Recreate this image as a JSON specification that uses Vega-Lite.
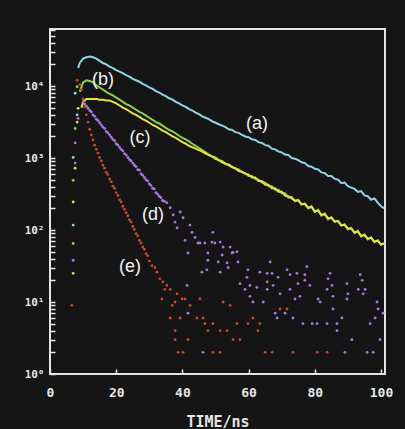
{
  "$schema": "https://vega.github.io/schema/vega-lite/v6.json",
  "width": 335,
  "height": 345,
  "autosize": {"type": "none"},
  "padding": {"left": 50, "top": 29, "right": 20, "bottom": 55},
  "background": "#151515",
  "config": {
    "view": {"stroke": "#e4e4e4", "strokeWidth": 2},
    "axis": {"grid": false, "domain": false, "tickColor": "#e8e8e8", "tickWidth": 1.5, "labelColor": "#e6e6e6", "labelFont": "DejaVu Sans Mono", "labelFontWeight": "bold", "titleColor": "#e6e6e6", "titleFont": "DejaVu Sans Mono", "titleFontWeight": "bold"}
  },
  "datasets": {
    "curves": [
      {"s":"a","t":8.5,"v":17780},{"s":"a","t":9,"v":20890},{"s":"a","t":10,"v":23990},{"s":"a","t":11,"v":25120},{"s":"a","t":12,"v":25700},{"s":"a","t":13,"v":25120},{"s":"a","t":14,"v":23990},{"s":"a","t":15,"v":22390},{"s":"a","t":16,"v":20890},{"s":"a","t":17,"v":19950},{"s":"a","t":18,"v":18620},{"s":"a","t":19,"v":17780},{"s":"a","t":20,"v":16600},{"s":"a","t":21,"v":15850},{"s":"a","t":22,"v":15140},{"s":"a","t":23,"v":14130},{"s":"a","t":24,"v":13490},{"s":"a","t":25,"v":12590},{"s":"a","t":26,"v":12020},{"s":"a","t":27,"v":11480},{"s":"a","t":28,"v":10720},{"s":"a","t":29,"v":10230},{"s":"a","t":30,"v":9550},{"s":"a","t":31,"v":9120},{"s":"a","t":32,"v":8510},{"s":"a","t":33,"v":8130},{"s":"a","t":34,"v":7590},{"s":"a","t":35,"v":7240},{"s":"a","t":36,"v":6760},{"s":"a","t":37,"v":6460},{"s":"a","t":38,"v":6030},{"s":"a","t":39,"v":5750},{"s":"a","t":40,"v":5370},{"s":"a","t":41,"v":5130},{"s":"a","t":42,"v":4790},{"s":"a","t":43,"v":4570},{"s":"a","t":44,"v":4270},{"s":"a","t":45,"v":4070},{"s":"a","t":46,"v":3800},{"s":"a","t":47,"v":3630},{"s":"a","t":48,"v":3470},{"s":"a","t":49,"v":3240},{"s":"a","t":50,"v":3090},{"s":"a","t":51,"v":2950},{"s":"a","t":52,"v":2820},{"s":"a","t":53,"v":2690},{"s":"a","t":54,"v":2510},{"s":"a","t":55,"v":2450},{"s":"a","t":56,"v":2290},{"s":"a","t":57,"v":2240},{"s":"a","t":58,"v":2090},{"s":"a","t":59,"v":1995},{"s":"a","t":60,"v":1950},{"s":"a","t":61,"v":1820},{"s":"a","t":62,"v":1780},{"s":"a","t":63,"v":1660},{"s":"a","t":64,"v":1620},{"s":"a","t":65,"v":1510},{"s":"a","t":66,"v":1480},{"s":"a","t":67,"v":1350},{"s":"a","t":68,"v":1320},{"s":"a","t":69,"v":1230},{"s":"a","t":70,"v":1200},{"s":"a","t":71,"v":1120},{"s":"a","t":72,"v":1100},{"s":"a","t":73,"v":1000},{"s":"a","t":74,"v":977},{"s":"a","t":75,"v":933},{"s":"a","t":76,"v":871},{"s":"a","t":77,"v":851},{"s":"a","t":78,"v":776},{"s":"a","t":79,"v":759},{"s":"a","t":80,"v":708},{"s":"a","t":81,"v":692},{"s":"a","t":82,"v":631},{"s":"a","t":83,"v":617},{"s":"a","t":84,"v":562},{"s":"a","t":85,"v":562},{"s":"a","t":86,"v":513},{"s":"a","t":87,"v":501},{"s":"a","t":88,"v":447},{"s":"a","t":89,"v":457},{"s":"a","t":90,"v":407},{"s":"a","t":91,"v":389},{"s":"a","t":92,"v":372},{"s":"a","t":93,"v":339},{"s":"a","t":94,"v":347},{"s":"a","t":95,"v":302},{"s":"a","t":96,"v":295},{"s":"a","t":97,"v":263},{"s":"a","t":98,"v":275},{"s":"a","t":99,"v":240},{"s":"a","t":100,"v":214},{"s":"a","t":101,"v":200},
      {"s":"b","t":9,"v":8320},{"s":"b","t":10,"v":11220},{"s":"b","t":11,"v":12020},{"s":"b","t":12,"v":11750},{"s":"b","t":13,"v":11220},{"s":"b","t":14,"v":10230},{"s":"b","t":15,"v":9550},{"s":"b","t":16,"v":8910},{"s":"b","t":17,"v":8320},{"s":"b","t":18,"v":7760},{"s":"b","t":19,"v":7410},{"s":"b","t":20,"v":6920},{"s":"b","t":21,"v":6460},{"s":"b","t":22,"v":6030},{"s":"b","t":23,"v":5620},{"s":"b","t":24,"v":5370},{"s":"b","t":25,"v":5010},{"s":"b","t":26,"v":4680},{"s":"b","t":27,"v":4370},{"s":"b","t":28,"v":4170},{"s":"b","t":29,"v":3890},{"s":"b","t":30,"v":3630},{"s":"b","t":31,"v":3390},{"s":"b","t":32,"v":3160},{"s":"b","t":33,"v":3020},{"s":"b","t":34,"v":2820},{"s":"b","t":35,"v":2630},{"s":"b","t":36,"v":2450},{"s":"b","t":37,"v":2340},{"s":"b","t":38,"v":2190},{"s":"b","t":39,"v":2040},{"s":"b","t":40,"v":1910},{"s":"b","t":41,"v":1820},{"s":"b","t":42,"v":1700},{"s":"b","t":43,"v":1580},{"s":"b","t":44,"v":1480},{"s":"b","t":45,"v":1380},{"s":"b","t":46,"v":1290},{"s":"b","t":47,"v":1200},{"s":"b","t":48,"v":1120},{"s":"b","t":49,"v":1050},{"s":"b","t":50,"v":1020},{"s":"b","t":51,"v":933},{"s":"b","t":52,"v":912},{"s":"b","t":53,"v":832},{"s":"b","t":54,"v":813},{"s":"b","t":55,"v":759},{"s":"b","t":56,"v":708},{"s":"b","t":57,"v":692},{"s":"b","t":58,"v":631},{"s":"b","t":59,"v":617},{"s":"b","t":60,"v":562},{"s":"b","t":61,"v":562},{"s":"b","t":62,"v":513},{"s":"b","t":63,"v":501},{"s":"b","t":64,"v":457},{"s":"b","t":65,"v":457},{"s":"b","t":66,"v":407},{"s":"b","t":67,"v":407},{"s":"b","t":68,"v":363},{"s":"b","t":69,"v":363},{"s":"b","t":70,"v":324},{"s":"b","t":71,"v":324},{"s":"b","t":72,"v":282},{"s":"b","t":73,"v":288},{"s":"b","t":74,"v":251},{"s":"b","t":75,"v":263},{"s":"b","t":76,"v":224},{"s":"b","t":77,"v":234},{"s":"b","t":78,"v":200},{"s":"b","t":79,"v":214},{"s":"b","t":80,"v":178},{"s":"b","t":81,"v":191},{"s":"b","t":82,"v":158},{"s":"b","t":83,"v":170},{"s":"b","t":84,"v":141},{"s":"b","t":85,"v":151},{"s":"b","t":86,"v":129},{"s":"b","t":87,"v":135},{"s":"b","t":88,"v":115},{"s":"b","t":89,"v":120},{"s":"b","t":90,"v":102},{"s":"b","t":91,"v":107},{"s":"b","t":92,"v":91},{"s":"b","t":93,"v":98},{"s":"b","t":94,"v":81},{"s":"b","t":95,"v":87},{"s":"b","t":96,"v":74},{"s":"b","t":97,"v":79},{"s":"b","t":98,"v":68},{"s":"b","t":99,"v":72},{"s":"b","t":100,"v":62},{"s":"b","t":101,"v":66},
      {"s":"c","t":9.5,"v":5010},{"s":"c","t":10,"v":6030},{"s":"c","t":11,"v":6610},{"s":"c","t":12,"v":6610},{"s":"c","t":13,"v":6610},{"s":"c","t":14,"v":6610},{"s":"c","t":15,"v":6460},{"s":"c","t":16,"v":6460},{"s":"c","t":17,"v":6310},{"s":"c","t":18,"v":6310},{"s":"c","t":19,"v":6030},{"s":"c","t":20,"v":5750},{"s":"c","t":21,"v":5370},{"s":"c","t":22,"v":5010},{"s":"c","t":23,"v":4790},{"s":"c","t":24,"v":4470},{"s":"c","t":25,"v":4170},{"s":"c","t":26,"v":3980},{"s":"c","t":27,"v":3720},{"s":"c","t":28,"v":3470},{"s":"c","t":29,"v":3310},{"s":"c","t":30,"v":3090},{"s":"c","t":31,"v":2880},{"s":"c","t":32,"v":2750},{"s":"c","t":33,"v":2570},{"s":"c","t":34,"v":2400},{"s":"c","t":35,"v":2290},{"s":"c","t":36,"v":2140},{"s":"c","t":37,"v":1995},{"s":"c","t":38,"v":1910},{"s":"c","t":39,"v":1780},{"s":"c","t":40,"v":1660},{"s":"c","t":41,"v":1580},{"s":"c","t":42,"v":1480},{"s":"c","t":43,"v":1410},{"s":"c","t":44,"v":1350},{"s":"c","t":45,"v":1290},{"s":"c","t":46,"v":1230},{"s":"c","t":47,"v":1150},{"s":"c","t":48,"v":1100},{"s":"c","t":49,"v":1050},{"s":"c","t":50,"v":977},{"s":"c","t":51,"v":933},{"s":"c","t":52,"v":871},{"s":"c","t":53,"v":832},{"s":"c","t":54,"v":794},{"s":"c","t":55,"v":741},{"s":"c","t":56,"v":724},{"s":"c","t":57,"v":661},{"s":"c","t":58,"v":646},{"s":"c","t":59,"v":603},{"s":"c","t":60,"v":589},{"s":"c","t":61,"v":537},{"s":"c","t":62,"v":537},{"s":"c","t":63,"v":479},{"s":"c","t":64,"v":479},{"s":"c","t":65,"v":427},{"s":"c","t":66,"v":427},{"s":"c","t":67,"v":380},{"s":"c","t":68,"v":380},{"s":"c","t":69,"v":339},{"s":"c","t":70,"v":339},{"s":"c","t":71,"v":302},{"s":"c","t":72,"v":295},{"s":"c","t":73,"v":275},{"s":"c","t":74,"v":257},{"s":"c","t":75,"v":257},{"s":"c","t":76,"v":229},{"s":"c","t":77,"v":229},{"s":"c","t":78,"v":204},{"s":"c","t":79,"v":209},{"s":"c","t":80,"v":182},{"s":"c","t":81,"v":186},{"s":"c","t":82,"v":162},{"s":"c","t":83,"v":166},{"s":"c","t":84,"v":145},{"s":"c","t":85,"v":148},{"s":"c","t":86,"v":132},{"s":"c","t":87,"v":132},{"s":"c","t":88,"v":117},{"s":"c","t":89,"v":117},{"s":"c","t":90,"v":105},{"s":"c","t":91,"v":105},{"s":"c","t":92,"v":93},{"s":"c","t":93,"v":95},{"s":"c","t":94,"v":83},{"s":"c","t":95,"v":85},{"s":"c","t":96,"v":76},{"s":"c","t":97,"v":78},{"s":"c","t":98,"v":69},{"s":"c","t":99,"v":71},{"s":"c","t":100,"v":63},{"s":"c","t":101,"v":65}
    ],
    "dots": [
      {"s":"a","t":7.6,"v":7940},{"s":"a","t":8.2,"v":3980},{"s":"a","t":7.0,"v":1020},{"s":"a","t":7.0,"v":117},
      {"s":"b","t":8.2,"v":9770},{"s":"b","t":7.6,"v":2570},{"s":"b","t":7.0,"v":490},{"s":"b","t":7.0,"v":65},
      {"s":"c","t":8.5,"v":4900},{"s":"c","t":8.2,"v":3160},{"s":"c","t":7.6,"v":724},{"s":"c","t":7.0,"v":245},{"s":"c","t":7.0,"v":25},
      {"s":"d","t":8.5,"v":3550},{"s":"d","t":7.6,"v":1620},{"s":"d","t":7.6,"v":851},{"s":"d","t":7.0,"v":38},
      {"s":"e","t":8.2,"v":12020},{"s":"e","t":6.6,"v":9},
      {"s":"d","t":10,"v":6030},{"s":"d","t":10.5,"v":5620},{"s":"d","t":11,"v":5250},{"s":"d","t":11.5,"v":4900},{"s":"d","t":12,"v":4570},{"s":"d","t":12.5,"v":4370},{"s":"d","t":13,"v":3980},{"s":"d","t":13.5,"v":3800},{"s":"d","t":14,"v":3470},{"s":"d","t":14.5,"v":3310},{"s":"d","t":15,"v":3090},{"s":"d","t":15.5,"v":2880},{"s":"d","t":16,"v":2690},{"s":"d","t":16.5,"v":2570},{"s":"d","t":17,"v":2340},{"s":"d","t":17.5,"v":2240},{"s":"d","t":18,"v":2090},{"s":"d","t":18.5,"v":1950},{"s":"d","t":19,"v":1820},{"s":"d","t":19.5,"v":1740},{"s":"d","t":20,"v":1580},{"s":"d","t":20.5,"v":1510},{"s":"d","t":21,"v":1410},{"s":"d","t":21.5,"v":1320},{"s":"d","t":22,"v":1260},{"s":"d","t":22.5,"v":1150},{"s":"d","t":23,"v":1100},{"s":"d","t":23.5,"v":1020},{"s":"d","t":24,"v":955},{"s":"d","t":24.5,"v":912},{"s":"d","t":25,"v":851},{"s":"d","t":25.5,"v":794},{"s":"d","t":26,"v":759},{"s":"d","t":26.5,"v":692},{"s":"d","t":27,"v":676},{"s":"d","t":27.5,"v":603},{"s":"d","t":28,"v":575},{"s":"d","t":28.5,"v":537},{"s":"d","t":29,"v":501},{"s":"d","t":29.5,"v":479},{"s":"d","t":30,"v":437},{"s":"d","t":30.5,"v":417},{"s":"d","t":31,"v":380},{"s":"d","t":31.5,"v":372},{"s":"d","t":32,"v":331},{"s":"d","t":32.5,"v":316},{"s":"d","t":33,"v":295},{"s":"d","t":33.5,"v":282},{"s":"d","t":34,"v":257},{"s":"d","t":34.5,"v":251},
      {"s":"d","t":35.3,"v":240},{"s":"d","t":36.3,"v":204},{"s":"d","t":37.2,"v":162},{"s":"d","t":37.8,"v":129},{"s":"d","t":38.4,"v":107},{"s":"d","t":39.3,"v":178},{"s":"d","t":40.2,"v":148},{"s":"d","t":40.8,"v":72},{"s":"d","t":42.3,"v":117},{"s":"d","t":42.9,"v":93},{"s":"d","t":43.8,"v":79},{"s":"d","t":44.7,"v":66},{"s":"d","t":49.2,"v":93},{"s":"d","t":48.9,"v":68},{"s":"d","t":49.8,"v":66},{"s":"d","t":41.7,"v":48},{"s":"d","t":47.7,"v":48},{"s":"d","t":47.7,"v":38},{"s":"d","t":50.8,"v":36},{"s":"d","t":52.3,"v":58},{"s":"d","t":54.4,"v":58},{"s":"d","t":55,"v":48},{"s":"d","t":56.5,"v":50},{"s":"d","t":56.8,"v":36},{"s":"d","t":52,"v":45},{"s":"d","t":53.5,"v":35},{"s":"d","t":53.8,"v":30},{"s":"d","t":45.9,"v":26},{"s":"d","t":47.4,"v":28},{"s":"d","t":51.4,"v":26},{"s":"d","t":59.8,"v":28},{"s":"d","t":59.5,"v":22},{"s":"d","t":63.4,"v":26},{"s":"d","t":65.6,"v":25},{"s":"d","t":57.4,"v":18},{"s":"d","t":60.4,"v":17},{"s":"d","t":58.9,"v":15},{"s":"d","t":62.5,"v":16},{"s":"d","t":65.6,"v":15},{"s":"d","t":41.4,"v":17},{"s":"d","t":60.4,"v":12},{"s":"d","t":61.3,"v":10},{"s":"d","t":64.4,"v":10},{"s":"d","t":41.7,"v":7},{"s":"d","t":46.2,"v":2},{"s":"d","t":46.8,"v":66},{"s":"d","t":51.4,"v":68},{"s":"d","t":55.3,"v":49},{"s":"d","t":45.3,"v":66},
      {"s":"d","t":66.5,"v":36},{"s":"d","t":71.6,"v":28},{"s":"d","t":77.6,"v":31},{"s":"d","t":67.1,"v":25},{"s":"d","t":68.9,"v":22},{"s":"d","t":72.5,"v":24},{"s":"d","t":74.6,"v":25},{"s":"d","t":77,"v":24},{"s":"d","t":77,"v":20},{"s":"d","t":65.6,"v":19},{"s":"d","t":67.4,"v":17},{"s":"d","t":74.9,"v":18},{"s":"d","t":78.5,"v":17},{"s":"d","t":84.6,"v":25},{"s":"d","t":84,"v":21},{"s":"d","t":85.2,"v":17},{"s":"d","t":83.7,"v":15},{"s":"d","t":89.7,"v":18},{"s":"d","t":93.7,"v":24},{"s":"d","t":94.3,"v":20},{"s":"d","t":93.1,"v":15},{"s":"d","t":95.2,"v":15},{"s":"d","t":72.5,"v":15},{"s":"d","t":69.5,"v":13},{"s":"d","t":74,"v":11},{"s":"d","t":75.5,"v":12},{"s":"d","t":81,"v":11},{"s":"d","t":81.6,"v":10},{"s":"d","t":85.5,"v":12},{"s":"d","t":90,"v":13},{"s":"d","t":94.6,"v":13},{"s":"d","t":89.7,"v":11},{"s":"d","t":85.5,"v":8},{"s":"d","t":98.8,"v":10},{"s":"d","t":99.1,"v":8},{"s":"d","t":100.6,"v":7},{"s":"d","t":68,"v":7},{"s":"d","t":71,"v":7},{"s":"d","t":73.4,"v":6},{"s":"d","t":68.6,"v":6},{"s":"d","t":88.2,"v":6},{"s":"d","t":98.2,"v":6},{"s":"d","t":76.4,"v":5},{"s":"d","t":79.2,"v":5},{"s":"d","t":80.7,"v":5},{"s":"d","t":83.7,"v":5},{"s":"d","t":86.7,"v":5},{"s":"d","t":96.7,"v":5},{"s":"d","t":86.7,"v":4},{"s":"d","t":91.2,"v":3},{"s":"d","t":99.7,"v":3},{"s":"d","t":89.1,"v":2},{"s":"d","t":95.8,"v":2},{"s":"d","t":97.6,"v":2},
      {"s":"e","t":9,"v":10470},{"s":"e","t":9.5,"v":8910},{"s":"e","t":10,"v":6610},{"s":"e","t":10.5,"v":5130},{"s":"e","t":11,"v":3980},{"s":"e","t":11.5,"v":3160},{"s":"e","t":12,"v":2510},{"s":"e","t":12.5,"v":2090},{"s":"e","t":13,"v":1780},{"s":"e","t":13.5,"v":1510},{"s":"e","t":14,"v":1320},{"s":"e","t":14.5,"v":1170},{"s":"e","t":15,"v":1020},{"s":"e","t":15.5,"v":912},{"s":"e","t":16,"v":794},{"s":"e","t":16.5,"v":724},{"s":"e","t":17,"v":631},{"s":"e","t":17.5,"v":589},{"s":"e","t":18,"v":513},{"s":"e","t":18.5,"v":468},{"s":"e","t":19,"v":407},{"s":"e","t":19.5,"v":380},{"s":"e","t":20,"v":331},{"s":"e","t":20.5,"v":302},{"s":"e","t":21,"v":263},{"s":"e","t":21.5,"v":245},{"s":"e","t":22,"v":214},{"s":"e","t":22.5,"v":195},{"s":"e","t":23,"v":174},{"s":"e","t":23.5,"v":158},{"s":"e","t":24,"v":138},{"s":"e","t":24.5,"v":129},{"s":"e","t":25,"v":112},{"s":"e","t":25.5,"v":102},{"s":"e","t":26,"v":89},{"s":"e","t":26.5,"v":83},{"s":"e","t":27,"v":72},{"s":"e","t":27.5,"v":66},{"s":"e","t":28,"v":58},{"s":"e","t":28.5,"v":54},{"s":"e","t":29,"v":47},{"s":"e","t":29.5,"v":44},{"s":"e","t":30,"v":37},
      {"s":"e","t":30.8,"v":32},{"s":"e","t":31.7,"v":30},{"s":"e","t":32.3,"v":26},{"s":"e","t":33.2,"v":21},{"s":"e","t":34.1,"v":19},{"s":"e","t":35.3,"v":17},{"s":"e","t":34.7,"v":15},{"s":"e","t":36.3,"v":15},{"s":"e","t":33.8,"v":11},{"s":"e","t":38.4,"v":13},{"s":"e","t":39.9,"v":11},{"s":"e","t":40.8,"v":11},{"s":"e","t":45.3,"v":11},{"s":"e","t":36.9,"v":9},{"s":"e","t":37.8,"v":10},{"s":"e","t":42.3,"v":9},{"s":"e","t":52.3,"v":10},{"s":"e","t":54.4,"v":9},{"s":"e","t":36.3,"v":6},{"s":"e","t":39.3,"v":6},{"s":"e","t":44.4,"v":6},{"s":"e","t":46.2,"v":6},{"s":"e","t":61.3,"v":6},{"s":"e","t":46.8,"v":5},{"s":"e","t":49.2,"v":5},{"s":"e","t":56.5,"v":5},{"s":"e","t":59.8,"v":5},{"s":"e","t":63.4,"v":5},{"s":"e","t":37.8,"v":4},{"s":"e","t":47.7,"v":4},{"s":"e","t":51.4,"v":4},{"s":"e","t":53.5,"v":4},{"s":"e","t":62.8,"v":4},{"s":"e","t":37.8,"v":3},{"s":"e","t":41.7,"v":3},{"s":"e","t":55.3,"v":3},{"s":"e","t":57.4,"v":3},{"s":"e","t":38.7,"v":2},{"s":"e","t":40.2,"v":2},{"s":"e","t":49.2,"v":2},{"s":"e","t":51.4,"v":2},{"s":"e","t":65,"v":2},{"s":"e","t":67.1,"v":2},{"s":"e","t":73.4,"v":2},{"s":"e","t":80.7,"v":2},{"s":"e","t":83.7,"v":2},{"s":"e","t":69.5,"v":8},{"s":"e","t":71.6,"v":8}
    ],
    "labels": [
      {"label":"(a)","t":62.5,"v":2950},
      {"label":"(b)","t":16,"v":12000},
      {"label":"(c)","t":27.2,"v":1900},
      {"label":"(d)","t":31.1,"v":162},
      {"label":"(e)","t":24.2,"v":31}
    ]
  },
  "layer": [
    {
      "data": {"name": "curves"},
      "mark": {"type": "line", "strokeWidth": 2},
      "encoding": {
        "x": {"field": "t", "type": "quantitative", "scale": {"domain": [0, 101.2], "nice": false, "zero": false},
          "axis": {"values": [0, 20, 40, 60, 80, 100], "offset": -5, "tickSize": 5, "labelPadding": 12, "labelFontSize": 13, "labelFlush": false, "title": "TIME/ns", "titleFontSize": 15, "titlePadding": 15}},
        "y": {"field": "v", "type": "quantitative", "scale": {"type": "log", "domain": [1, 62000], "nice": false},
          "axis": {"values": [1,2,3,4,5,6,7,8,9,10,20,30,40,50,60,70,80,90,100,200,300,400,500,600,700,800,900,1000,2000,3000,4000,5000,6000,7000,8000,9000,10000,20000,30000,40000,50000,60000],
            "offset": -5, "tickSize": 5, "labelPadding": 6, "labelFontSize": 11, "labelOverlap": false, "labelFlush": false, "title": null,
            "labelExpr": "datum.value==1?'10⁰':datum.value==10?'10¹':datum.value==100?'10²':datum.value==1000?'10³':datum.value==10000?'10⁴':''"}},
        "color": {"field": "s", "type": "nominal", "legend": null,
          "scale": {"domain": ["a","b","c","d","e"], "range": ["#8fd4e6","#8ccf4f","#e8e04a","#a678e0","#c8472f"]}}
      }
    },
    {
      "data": {"name": "dots"},
      "mark": {"type": "circle", "size": 8, "opacity": 1},
      "encoding": {
        "x": {"field": "t", "type": "quantitative"},
        "y": {"field": "v", "type": "quantitative"},
        "color": {"field": "s", "type": "nominal"}
      }
    },
    {
      "data": {"name": "labels"},
      "mark": {"type": "text", "font": "Liberation Sans", "fontSize": 18, "color": "#f2f2f2", "align": "center", "baseline": "middle"},
      "encoding": {
        "x": {"field": "t", "type": "quantitative"},
        "y": {"field": "v", "type": "quantitative"},
        "text": {"field": "label"}
      }
    }
  ]
}
